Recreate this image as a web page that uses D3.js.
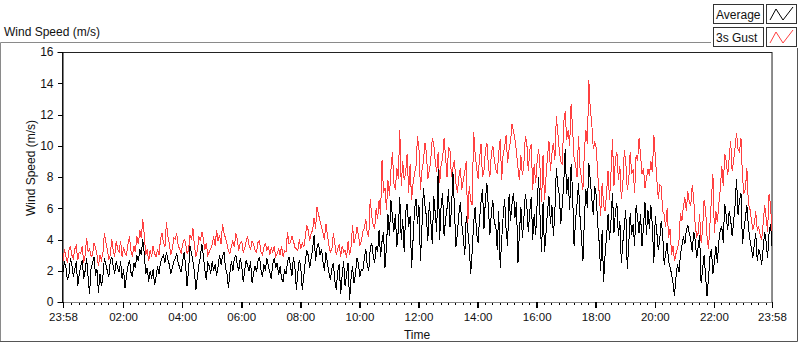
<!DOCTYPE html>
<html><head><meta charset="utf-8">
<script src="https://cdn.jsdelivr.net/npm/d3@7"></script>
<style>
body{margin:0;background:#fff;}
svg{display:block;font-family:"Liberation Sans",Arial,sans-serif;}
</style>
</head><body>
<svg id="chart" width="800" height="342"></svg>
<script>
// ---- data (one reading every 3 minutes) ----
const startTime = "2000-01-01T23:58:00";
const stepMinutes = 3;
const average = [
1.9,2.6,2.2,1.4,1.7,2.8,2.4,1.6,2.1,2.6,1.0,1.8,2.3,2.7,1.5,2.0,2.8,1.6,0.5,2.2,2.5,2.9,1.7,2.1,0.6,1.8,1.0,1.6,2.8,2.4,2.0,1.6,2.6,2.9,2.3,1.8,2.6,2.2,1.9,2.6,
1.5,2.1,0.9,1.7,2.3,2.7,1.9,1.6,2.5,2.2,3.0,2.6,3.4,3.0,4.0,3.1,1.8,2.2,1.3,2.0,1.5,2.1,1.1,1.6,2.3,1.8,2.5,2.8,3.0,2.5,3.2,2.7,2.4,1.8,2.2,2.6,2.8,3.1,2.5,2.2,
1.9,2.6,3.2,2.4,1.0,2.0,3.6,3.1,2.6,1.9,0.8,1.6,2.4,2.9,3.7,3.0,2.1,1.4,2.5,2.3,1.8,2.6,2.0,2.4,1.7,2.3,3.0,2.4,2.9,3.2,2.2,1.8,0.9,1.9,2.6,2.0,2.8,3.0,2.4,2.0,
2.8,2.3,1.3,2.0,2.7,2.3,2.0,2.6,1.2,1.8,2.3,1.9,2.6,2.9,2.1,1.6,2.4,2.0,2.8,2.3,1.9,1.5,2.4,2.8,2.2,2.5,1.7,2.3,1.5,1.3,2.1,1.8,2.6,2.9,2.3,1.7,2.9,2.2,0.8,1.9,
2.7,2.2,0.8,1.6,2.6,3.3,3.0,2.2,2.8,3.4,4.3,2.6,3.5,3.8,3.0,3.4,2.6,2.0,3.2,2.5,1.9,1.4,2.1,2.5,1.4,0.8,2.0,2.4,0.5,1.7,2.6,1.0,1.8,2.5,0.1,1.5,2.3,1.2,1.8,2.8,
2.5,1.6,2.1,2.0,2.8,3.4,2.3,2.0,3.4,3.8,3.0,2.5,3.6,3.2,4.6,2.9,3.9,4.5,2.2,3.6,5.6,4.2,6.5,5.5,4.5,5.6,3.5,4.6,6.7,4.0,5.3,3.2,5.8,6.3,4.8,5.5,2.2,4.0,5.9,6.6,
5.0,6.2,2.6,4.8,7.3,6.2,5.5,3.9,6.4,5.2,3.7,6.8,5.7,4.5,8.5,4.0,6.2,7.0,4.2,5.3,6.0,7.2,4.8,5.9,8.3,6.0,3.5,4.4,5.6,6.4,5.0,4.1,3.0,5.5,4.6,3.6,1.8,3.2,5.0,6.1,
4.4,3.8,5.3,6.4,7.2,4.7,6.6,7.6,6.0,4.3,5.7,6.5,5.0,4.9,3.3,5.8,2.2,4.0,5.5,6.6,4.6,3.6,6.9,5.2,6.3,7.0,5.4,6.4,2.5,4.4,6.1,4.1,5.3,6.9,6.2,4.5,5.8,6.7,4.0,5.6,
4.3,6.3,8.0,5.4,3.2,6.4,3.2,4.4,5.8,6.8,5.0,6.2,4.2,5.8,8.6,7.4,6.9,5.0,6.2,7.6,9.8,6.9,8.0,5.9,8.8,7.0,3.6,5.2,6.3,7.6,5.5,4.2,2.6,5.4,7.2,6.0,8.9,7.8,6.6,5.6,
7.4,6.8,5.0,3.8,2.0,4.6,1.3,3.0,4.2,5.6,4.0,5.2,7.0,4.4,5.8,6.3,4.2,5.2,2.5,3.8,4.8,5.9,2.1,3.6,5.7,4.3,5.0,3.6,6.2,5.4,4.4,5.6,3.6,4.8,6.4,4.3,5.9,4.7,6.2,4.9,
2.5,5.5,4.5,3.3,4.0,5.2,4.3,2.4,3.1,3.8,2.6,2.2,1.8,1.2,0.4,1.6,2.4,1.9,3.0,3.6,4.2,3.7,4.6,4.9,4.4,4.0,3.2,4.5,4.0,2.8,3.5,4.3,1.2,2.1,3.0,1.7,0.4,1.5,2.9,3.4,
1.8,2.6,3.6,2.5,3.9,4.6,4.8,3.8,6.3,5.5,4.6,5.8,5.3,4.2,5.1,6.2,7.9,5.6,6.5,7.0,3.7,4.6,5.4,6.2,4.9,4.0,3.5,2.8,3.7,4.4,2.6,3.4,3.0,2.4,3.4,4.5,3.9,2.8,4.4,5.0,
3.6
];
const gust3s = [
2.6,3.4,2.9,2.5,3.3,3.6,3.0,2.8,3.4,3.6,2.7,3.2,3.1,3.6,2.5,3.0,4.1,3.2,3.4,2.9,3.0,3.8,3.5,3.0,2.3,3.0,2.7,3.1,4.4,3.8,3.4,2.7,3.0,4.0,3.3,2.9,3.9,3.4,3.2,3.9,
2.9,3.5,3.1,3.0,3.7,4.2,3.3,2.9,3.6,3.2,4.2,3.7,4.6,4.1,5.3,4.3,3.0,3.4,2.6,3.3,2.9,3.6,3.1,2.9,3.4,3.0,4.0,4.4,3.8,3.5,5.1,4.2,3.7,3.0,3.4,4.1,4.0,4.4,3.6,3.4,
3.1,3.7,4.0,3.8,3.1,3.3,4.3,4.0,4.7,3.6,2.9,3.3,4.2,3.9,4.5,4.1,3.3,3.8,3.0,3.2,3.4,3.7,4.2,3.6,4.6,3.9,4.3,3.7,5.0,4.4,4.1,3.7,3.3,3.1,3.6,3.9,3.5,4.4,4.0,3.3,
3.8,3.9,3.2,3.4,3.9,4.2,3.6,3.4,3.9,3.7,3.3,3.2,3.8,3.9,3.2,3.0,3.5,3.8,3.3,3.6,3.0,3.5,3.2,3.6,2.9,3.1,3.4,3.0,3.6,2.9,3.3,3.2,4.5,3.7,3.8,4.2,3.9,3.5,3.4,3.3,
4.0,3.4,3.8,3.5,4.1,4.9,4.6,3.9,4.4,4.6,5.4,4.7,6.1,5.6,5.2,4.8,4.4,4.0,5.0,4.3,3.6,3.2,3.3,4.4,3.8,3.0,3.4,3.7,2.9,3.6,3.2,3.3,2.8,3.9,3.0,3.5,4.9,3.8,4.1,4.8,
4.3,3.6,3.9,4.5,4.7,5.3,4.4,4.2,6.6,5.5,4.9,4.7,6.0,5.3,6.5,5.6,9.1,7.0,7.3,5.9,7.8,6.8,8.4,9.6,7.6,7.2,8.6,7.9,11.0,7.4,9.0,7.8,8.3,9.5,7.0,8.8,6.5,7.6,8.2,8.7,
10.6,9.8,7.2,8.4,9.0,10.2,9.6,7.9,8.4,9.1,10.5,10.1,9.0,8.3,9.6,7.6,8.8,9.2,10.5,9.3,8.0,9.9,9.7,8.0,8.6,9.1,7.6,7.0,8.0,8.6,7.2,7.8,8.3,9.0,4.8,7.4,6.5,6.2,10.9,9.5,
8.6,7.9,9.2,10.1,8.0,8.4,9.7,10.2,8.7,8.0,9.5,10.0,9.1,8.5,8.2,9.6,10.4,7.8,9.5,9.9,10.7,8.9,9.8,10.3,11.4,10.9,10.4,9.6,8.6,7.8,9.4,8.1,8.8,10.6,10.2,8.4,9.7,10.1,7.2,8.8,
7.6,9.0,9.8,8.5,6.4,9.4,6.5,8.0,9.3,10.3,8.4,9.5,10.2,9.1,11.9,10.8,9.7,9.0,8.8,11.5,12.2,10.4,11.0,10.0,12.7,11.1,9.2,8.8,8.0,10.6,8.6,7.9,7.2,9.7,11.0,10.1,14.2,12.3,11.4,9.8,
10.2,9.9,8.2,7.0,5.5,7.6,6.2,5.8,7.0,8.4,6.5,8.3,10.4,7.4,9.2,9.6,7.8,8.7,6.6,7.5,9.7,9.0,7.2,7.8,9.6,8.2,8.5,7.0,9.4,9.0,10.5,9.4,8.2,8.6,7.3,7.9,8.5,8.1,9.0,8.3,
10.7,9.3,7.9,6.6,7.5,7.4,5.8,5.6,4.8,6.0,4.1,4.7,3.0,3.6,2.6,3.1,3.4,3.9,5.7,5.2,6.1,6.7,5.8,7.1,6.4,6.2,7.5,6.6,4.9,4.2,4.4,5.6,3.8,4.6,6.5,6.0,4.2,3.4,5.0,6.6,
8.2,4.4,5.8,5.1,6.3,7.2,8.7,7.4,9.5,9.0,8.1,9.2,10.3,8.4,9.0,9.9,10.8,9.8,9.6,10.5,8.0,7.0,7.2,8.6,6.3,6.0,5.3,4.6,5.0,5.8,4.6,4.8,4.3,4.0,5.0,6.2,5.4,4.5,6.9,6.2,
4.5
];
const xTickLabels = ["23:58","02:00","04:00","06:00","08:00","10:00","12:00","14:00","16:00","18:00","20:00","22:00","23:58"];
const yTicks = [0,2,4,6,8,10,12,14,16];
const seriesNames = ["Average","3s Gust"];
const seriesColors = ["#000000","#ff4040"];

// ---- build ----
const t0 = new Date(startTime);
const t1 = d3.timeDay.offset(t0, 1);
const times = average.map((_, i) => d3.timeMinute.offset(t0, i * stepMinutes));
const svg = d3.select("#chart");

const plot = {left: 63, right: 772, top: 52, bottom: 302};
const x = d3.scaleTime().domain([t0, t1]).range([plot.left, plot.right]);
const y = d3.scaleLinear().domain([0, 16]).range([plot.bottom, plot.top]);

// panel frame
svg.append("path").attr("d", "M0.5,341 V42.5 H711").attr("fill","none").attr("stroke","#8a8a8a");
svg.append("path").attr("d", "M0,341.5 H797.5 V48").attr("fill","none").attr("stroke","#555");

svg.append("text").attr("x", 4).attr("y", 36).attr("font-size", 12).attr("fill","#111").text("Wind Speed (m/s)");

// plot border
svg.append("rect").attr("x", plot.left - 0.5).attr("y", plot.top + 0.5)
  .attr("width", plot.right - plot.left + 0.5).attr("height", plot.bottom - plot.top)
  .attr("fill","#fff").attr("stroke","#222");
svg.append("line").attr("x1", plot.right).attr("x2", plot.right).attr("y1", plot.top).attr("y2", plot.bottom)
  .attr("stroke","#888").attr("shape-rendering","crispEdges");

// x ticks
const xTickDates = xTickLabels.map((lab, i) => {
  if (i === 0) return t0;
  if (i === xTickLabels.length - 1) return t1;
  const [h, m] = lab.split(":").map(Number);
  const d = new Date(t1); d.setHours(h, m, 0, 0); return d;
});
const minorDates = d3.timeMinute.every(15).range(d3.timeMinute.offset(t0, 3), t1)
  .filter(d => d.getMinutes() !== 0 || d.getHours() % 2 !== 0)
  .filter(d => !(d.getHours() === 0 && d.getMinutes() === 0));

const gxMinor = svg.append("g").attr("transform", `translate(0,${plot.bottom})`)
  .call(d3.axisBottom(x).tickValues(minorDates).tickSize(3).tickFormat(""));
gxMinor.select(".domain").remove();
const gx = svg.append("g").attr("transform", `translate(0,${plot.bottom})`)
  .call(d3.axisBottom(x).tickValues(xTickDates).tickSize(6).tickPadding(5)
    .tickFormat((d, i) => xTickLabels[i]));
gx.select(".domain").attr("stroke","#888");
gx.selectAll("text").attr("font-size", 11.5).attr("fill","#111").attr("font-family","Liberation Sans, Arial, sans-serif");
svg.selectAll(".tick line").attr("stroke","#000").attr("shape-rendering","crispEdges");
gx.selectAll(".tick line").attr("stroke-width", 1.6);

// y axis
const gy = svg.append("g").attr("transform", `translate(${plot.left - 0.5},0)`)
  .call(d3.axisLeft(y).tickValues(yTicks).tickSize(5).tickPadding(4));
gy.select(".domain").attr("stroke","#000");
gy.selectAll("text").attr("font-size", 12).attr("fill","#111").attr("font-family","Liberation Sans, Arial, sans-serif");
gy.selectAll(".tick line").attr("stroke","#000").attr("shape-rendering","crispEdges");

svg.append("text").attr("transform", "translate(35,168) rotate(-90)").attr("text-anchor","middle")
  .attr("font-size", 12).attr("fill","#111").text("Wind Speed (m/s)");
svg.append("text").attr("x", 417).attr("y", 339).attr("text-anchor","middle")
  .attr("font-size", 12).attr("fill","#111").text("Time");

// series (gust underneath, average on top)
const line = d3.line().x((d, i) => x(times[i])).y(d => y(d));
[[gust3s, seriesColors[1]], [average, seriesColors[0]]].forEach(([vals, col]) => {
  svg.append("path").datum(vals).attr("d", line)
    .attr("fill","none").attr("stroke", col)
    .attr("stroke-width", 1).attr("shape-rendering","crispEdges");
});

// legend
const lg = svg.append("g");
seriesNames.forEach((name, i) => {
  const y0 = 4 + i * 23;
  lg.append("rect").attr("x", 713.5).attr("y", y0 + 0.5).attr("width", 50).attr("height", 19)
    .attr("fill","#fff").attr("stroke","#333");
  lg.append("text").attr("x", 716).attr("y", y0 + 15).attr("font-size", 12).attr("fill","#111").text(name);
  lg.append("rect").attr("x", 766.5).attr("y", y0 + 0.5).attr("width", 30).attr("height", 19)
    .attr("fill","#fff").attr("stroke","#333");
  lg.append("path").attr("d", `M770,${y0+16} L776,${y0+5} L783,${y0+16} L793,${y0+3}`)
    .attr("fill","none").attr("stroke", seriesColors[i]).attr("stroke-width", 1);
});
</script>
</body></html>
